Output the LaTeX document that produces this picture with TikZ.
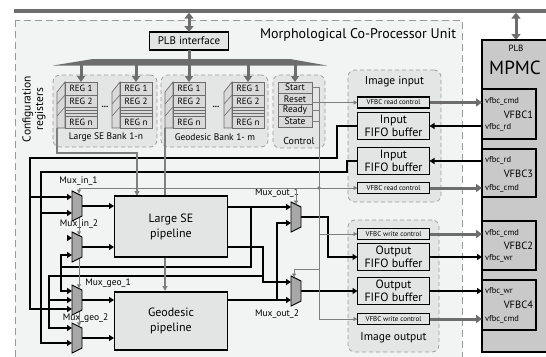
\documentclass[tikz,border=0pt]{standalone}
\usepackage{fontspec}
\setmainfont{PT Sans}
\usetikzlibrary{arrows.meta}
\definecolor{bgin}{HTML}{F2F3F3}
\definecolor{grpfill}{HTML}{E4E5E5}
\definecolor{regfill}{HTML}{D9D9D9}
\definecolor{boxfill}{HTML}{E3E4E4}
\definecolor{mpmcfill}{HTML}{C9C9C9}
\definecolor{muxfill}{HTML}{A8A8A8}
\definecolor{wgray}{HTML}{6D6D6D}
\definecolor{tgray}{HTML}{7F7F7F}
\definecolor{dgray}{HTML}{9A9A9A}
\newcommand\myfs[1]{\fontsize{#1}{#1}\selectfont}
\newcommand\myfsl[2]{\fontsize{#1}{#2}\selectfont}
\newcommand\regstack[2]{%
  \filldraw[fill=regfill, draw=wgray, line width=0.7pt] (#2-8,92) -- (#2,82) -- (#2,128) -- (#2-8,128) -- cycle;
  \draw[wgray, line width=0.6pt] (#2-8,104) -- (#2,95) (#2-8,116) -- (#2,107);
  \node[reg, minimum height=13pt, anchor=north west] (#1a) at (#2,82) {REG 1};
  \node[reg, anchor=north west] (#1b) at (#2,95) {REG 2};
  \node[reg, minimum height=9pt, anchor=north west] (#1c) at (#2,107) {};
  \draw[wgray, line width=0.5pt] (#2,110) -- ++(32,0) (#2,113) -- ++(32,0);
  \node[reg, anchor=north west] (#1d) at (#2,116) {REG n};
}
\newcommand\mymux[3]{%
  \filldraw[fill=muxfill, draw=black, line width=0.9pt] (#2,#3) -- (#2+10,#3+5) -- (#2+10,#3+25) -- (#2,#3+30) -- cycle;
  \coordinate (#1) at (#2+10,#3+15);
}
\begin{document}
\begin{tikzpicture}[x=1pt,y=-1pt,
  every node/.style={inner sep=0pt,outer sep=0pt},
  reg/.style={draw=wgray, fill=regfill, line width=0.7pt, minimum width=32pt, minimum height=12pt, font=\myfs{9}},
  grp/.style={draw=dgray, fill=grpfill, dash pattern=on 4pt off 3pt, line width=0.7pt, rounded corners=7pt},
  fifo/.style={draw=black, fill=boxfill, line width=1.5pt, minimum width=72pt, minimum height=27pt, align=center, font=\myfsl{12}{12.5}},
  ctlbox/.style={draw=black, fill=boxfill, line width=1.1pt, minimum width=72pt, minimum height=11pt, font=\myfs{7}},
  pipe/.style={draw=black, fill=boxfill, line width=1.5pt, minimum width=113pt, align=center, font=\myfsl{12}{15}},
  vfbc/.style={draw=black, fill=mpmcfill, line width=1.5pt, minimum width=54pt},
  creg/.style={draw=wgray, fill=regfill, line width=0.7pt, minimum width=34pt, minimum height=11.3pt, font=\myfs{9.5}},
  wire/.style={line width=2.4pt, black},
  warr/.style={wire, -{Triangle[length=5pt,width=6pt]}},
  gwire/.style={line width=3pt, wgray},
  garr/.style={gwire, -{Triangle[length=6pt,width=8pt]}},
  marr/.style={line width=1.3pt, tgray, -{Triangle[length=5pt,width=5pt]}},
  cwire/.style={line width=0.7pt, tgray},
  carr/.style={cwire, -{Triangle[length=4pt,width=4pt]}},
  lbl/.style={font=\myfs{9.5}},
  sml/.style={font=\myfs{8.5}},
]
\useasboundingbox (0,0) rectangle (546,356);
\fill[white] (0,0) rectangle (546,356);
% main unit
\draw[draw=dgray, fill=bgin, line width=0.9pt, dash pattern=on 7pt off 4pt] (15,20) rectangle (462,362);
\node[anchor=east, font=\myfs{14}] (title) at (456,35) {Morphological Co-Processor Unit};
\node[rotate=90, align=center, font=\myfsl{11.5}{12.5}] (cfg) at (34,109) {Configuration\\registers};
% top bus
\draw[gwire, line width=3.2pt] (14,11) -- (546,11);
\node[draw=black, fill=boxfill, line width=1.5pt, minimum width=79pt, minimum height=18pt, font=\myfs{11}] (plb) at (189,41) {PLB interface};
\draw[gwire, {Triangle[length=6pt,width=9pt]}-{Triangle[length=6pt,width=9pt]}] (189,12.6) -- (plb.north);
\draw[gwire, {Triangle[length=6pt,width=9pt]}-{Triangle[length=6pt,width=9pt]}] (516,12.6) -- (516,40);
\draw[gwire] (plb.south) -- (189,60);
\fill[wgray] (53,65.5) -- (93,59) -- (290,59) -- (327,65.5) -- cycle;
% groups
\node[grp, minimum width=104pt, minimum height=72pt] (bankA) at (105,111) {};
\node[grp, minimum width=107pt, minimum height=72pt] (bankB) at (214.5,111) {};
\node[grp, minimum width=52pt, minimum height=73pt] (ctrlg) at (299,111.5) {};
\node[grp, minimum width=93pt, minimum height=132pt] (imgin) at (394.5,136) {};
\node[grp, minimum width=91pt, minimum height=132pt] (imgout) at (393.5,286) {};
\node[font=\myfs{9.5}] (lbankA) at (106,137.5) {Large SE Bank 1-n};
\node[font=\myfs{9.5}] (lbankB) at (215,137.5) {Geodesic Bank 1- m};
\node[font=\myfs{10}] (lctrl) at (299,141) {Control};
\node[font=\myfs{11.5}] (limgin) at (394.5,82) {Image input};
\node[font=\myfs{11.5}] (limgout) at (393.5,338) {Image output};
% register stacks
\regstack{sa}{65}
\regstack{sb}{120}
\regstack{sc}{173}
\regstack{sd}{232}
\node[font=\bfseries\myfs{9}] (dotsA) at (105,107) {...};
\node[font=\bfseries\myfs{9}] (dotsB) at (216,107) {...};
\foreach \n in {sa,sb,sc,sd} \draw[garr] (\n a.north |- 0,65) -- (\n a.north);
% control registers
\node[creg, anchor=north] (cstart) at (295,82) {Start};
\node[creg, anchor=north] (creset) at (cstart.south) {Reset};
\node[creg, anchor=north] (cready) at (creset.south) {Ready};
\node[creg, anchor=north] (cstate) at (cready.south) {State};
\draw[garr] (295,65) -- (cstart.north);
% image input / output boxes
\node[ctlbox] (rc1) at (393.5,102.5) {VFBC read control};
\node[fifo] (fi1) at (393.5,126) {Input\\FIFO buffer};
\node[fifo] (fi2) at (393.5,161) {Input\\FIFO buffer};
\node[ctlbox] (rc2) at (393.5,188) {VFBC read control};
\node[ctlbox] (wc1) at (393.5,234) {VFBC write control};
\node[fifo] (fo1) at (393.5,257) {Output\\FIFO buffer};
\node[fifo] (fo2) at (393.5,291) {Output\\FIFO buffer};
\node[ctlbox] (wc2) at (393.5,319) {VFBC write control};
% MPMC
\node[draw=black, fill=mpmcfill, line width=1.6pt, minimum width=80pt, minimum height=312pt, anchor=north west] (mpmc) at (482,40) {};
\node[font=\myfs{9}] (plbm) at (516,48) {PLB};
\node[font=\myfs{19}] (mpmct) at (515,68) {MPMC};
\node[vfbc, minimum height=50pt, anchor=north west] (v1) at (482,89) {};
\node[vfbc, minimum height=48pt, anchor=north west] (v3) at (482,149) {};
\node[vfbc, minimum height=49pt, anchor=north west] (v2) at (482,221) {};
\node[vfbc, minimum height=50pt, anchor=north west] (v4) at (482,280) {};
\node[sml, anchor=west] (v1a) at (485,101.5) {vfbc\_cmd};
\node[font=\myfs{10.5}, anchor=east] (v1b) at (533,115) {VFBC1};
\node[sml, anchor=west] (v1c) at (485,127) {vfbc\_rd};
\node[sml, anchor=west] (v3a) at (485,160) {vfbc\_rd};
\node[font=\myfs{10.5}, anchor=east] (v3b) at (533,174) {VFBC3};
\node[sml, anchor=west] (v3c) at (485,188.5) {vfbc\_cmd};
\node[sml, anchor=west] (v2a) at (485,233) {vfbc\_cmd};
\node[font=\myfs{10.5}, anchor=east] (v2b) at (533,246) {VFBC2};
\node[sml, anchor=west] (v2c) at (485,258) {vfbc\_wr};
\node[sml, anchor=west] (v4a) at (485,291) {vfbc\_wr};
\node[font=\myfs{10.5}, anchor=east] (v4b) at (533,305) {VFBC4};
\node[sml, anchor=west] (v4c) at (485,319) {vfbc\_cmd};
% black data wires
\draw[warr] (fi1.west) -- (337,126) -- (337,158) -- (30,158) -- (30,309) -- (72,309);
\draw[warr] (30,197) -- (72,197);
\draw[warr] (fi2.west) -- (347,161) -- (347,172) -- (41,172) -- (41,343) -- (72,343);
\draw[warr] (41,213) -- (72,213);
\draw[warr] (82,206) -- (114,206);
\draw[warr] (82,247) -- (114,247);
\draw[warr] (82,300) -- (114,300);
\draw[warr] (82,338) -- (114,338);
\draw[warr] (228,207) -- (291,207);
\draw[wire] (251,207) -- (251,267) -- (61,267);
\draw[warr] (61,267) -- (61,255) -- (72,255);
\draw[warr] (61,267) -- (61,291) -- (72,291);
\draw[warr] (228,247) -- (263,247) -- (263,282) -- (291,282);
\draw[warr] (263,276) -- (49,276) -- (49,328) -- (72,328);
\draw[warr] (49,300) -- (72,300);
\draw[warr] (228,300) -- (291,300);
\draw[warr] (277,300) -- (277,223) -- (291,223);
\draw[warr] (301,217) -- (328,217) -- (328,257) -- (fo1.west);
\draw[warr] (301,291) -- (fo2.west);
\draw[warr] (67,238) -- (72,238);
\draw[warr] (482,126) -- (fi1.east);
\draw[warr] (482,161) -- (fi2.east);
\draw[warr] (fo1.east) -- (482,257);
\draw[warr] (fo2.east) -- (482,291);
\draw[garr] (rc1.east) -- (482,102.5);
\draw[garr] (rc2.east) -- (482,188);
\draw[garr] (wc1.east) -- (482,234);
\draw[garr] (wc2.east) -- (482,319);
% bank outputs
\draw[marr] (57,128) -- (57,153) -- (137,153) -- (137,196);
\draw[marr] (165,128) -- (165,291);
% pipelines
\node[pipe, minimum height=61pt] (lse) at (171,226.5) {Large SE\\pipeline};
\node[pipe, minimum height=58pt] (geo) at (171,321) {Geodesic\\pipeline};
% muxes
\mymux{mi1}{72}{191}
\mymux{mi2}{72}{232}
\mymux{mg1}{72}{285}
\mymux{mg2}{72}{323}
\mymux{mo1}{291}{202}
\mymux{mo2}{291}{276}
\node[lbl] (lmi1) at (78.5,181) {Mux\_in\_1};
\node[lbl] (lmi2) at (79,224) {Mux\_in\_2};
\node[lbl] (lmg1) at (108,283.5) {Mux\_geo\_1};
\node[lbl] (lmg2) at (85.5,318.5) {Mux\_geo\_2};
\node[lbl] (lmo1) at (277,193) {Mux\_out\_1};
\node[lbl] (lmo2) at (277,314) {Mux\_out\_2};
% control lines
\coordinate (jn) at (319,188);
\draw[carr] (cstart.east) -| (319,319) -- (wc2.west);
\draw[carr] (creset.east |- rc1.west) -- (rc1.west);
\draw[cwire] (cready.east) -- ++(7,0);
\draw[cwire] (cstate.east) -- ++(7,0);
\fill[tgray] (jn) circle (1.8pt);
\draw[carr] (jn) -- (rc2.west);
\draw[carr] (jn) -- (79,188) -- (79,193.6);
\draw[carr] (296,188) -- (296,204.6);
\draw[carr] (319,234) -- (wc1.west);
\draw[carr] (319,269) -- (294,269) -- (294,277.5);
\draw[carr] (79,217.5) -- (79,235.3);
\draw[carr] (79,258.5) -- (79,288.3);
\draw[carr] (79,311.5) -- (79,326.3);
\end{tikzpicture}
\end{document}
